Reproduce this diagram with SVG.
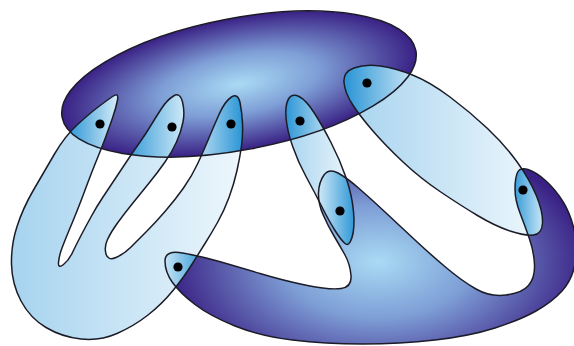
<svg xmlns="http://www.w3.org/2000/svg" width="574" height="346" viewBox="0 0 574 346">
<style>
.ol{fill:none;stroke:#1c1c28;stroke-width:1.5;stroke-linejoin:round}
.lt{fill:url(#gLight)}
.dot{fill:#000}
</style>
<defs>
<radialGradient id="gDarkE" cx="0.5" cy="0.5" r="0.5">
<stop offset="0" stop-color="#a9dbf4"/>
<stop offset="0.45" stop-color="#7e9ed6"/>
<stop offset="1" stop-color="#3a2185"/>
</radialGradient>
<radialGradient id="gDarkW" gradientUnits="userSpaceOnUse" cx="0" cy="0" r="1" gradientTransform="translate(378,262) scale(210,125)">
<stop offset="0" stop-color="#a9dbf4"/>
<stop offset="0.45" stop-color="#7e9ed6"/>
<stop offset="1" stop-color="#3a2185"/>
</radialGradient>
<linearGradient id="gLight" x1="0" y1="0" x2="1" y2="0">
<stop offset="0" stop-color="#a6d3ef"/>
<stop offset="1" stop-color="#eef7fc"/>
</linearGradient>
<linearGradient id="gBL" x1="0" y1="0" x2="1" y2="0">
<stop offset="0" stop-color="#1f8fd3"/>
<stop offset="1" stop-color="#d9eef9"/>
</linearGradient>
<linearGradient id="gBR" x1="0" y1="0" x2="1" y2="0">
<stop offset="0" stop-color="#d9eef9"/>
<stop offset="1" stop-color="#1f8fd3"/>
</linearGradient>
<ellipse id="pE" cx="0" cy="0" rx="180" ry="66" transform="translate(239,84) rotate(-10.7)"/>
<path id="pW" d="M165,261 Q165,250 182.5,253 Q200,256 217.5,261 Q235,266 260,273.5 Q285,281 307.5,285.5 Q330,290 341,288.5 Q352,287 351,275.5 Q350,264 345,255 Q340,246 334,236 Q328,226 323,214.5 Q318,203 318.5,192.5 Q319,182 324,175 Q329,168 338,173 Q347,178 358.5,188 Q370,198 385,212 Q400,226 415,240 Q430,254 446,267.5 Q462,281 476,289 Q490,297 506,295 Q522,293 528.5,285.5 Q535,278 534.5,265 Q534,252 529.5,239 Q525,226 520,213 Q515,200 515,189 Q515,178 517.5,172.5 Q520,167 528,169.5 Q536,172 546,181 Q556,190 563.5,202.5 Q571,215 574.5,231.5 Q578,248 575,264 Q572,280 562,291 Q552,302 536,311 Q520,320 495,328 Q470,336 435,340 Q400,344 362.5,344 Q325,344 292.5,340 Q260,336 235,326 Q210,316 195,304.5 Q180,293 172.5,282.5 Q165,272 165,261 Z"/>
<path id="pA" d="M112.5,96.5 Q119,92 117.5,100 Q116,108 112.5,118 Q109,128 105.5,137.5 Q102,147 98.5,155.5 Q95,164 91.5,173 Q88,182 84.5,191.5 Q81,201 77,211 Q73,221 69,230.5 Q65,240 62,248 Q59,256 58.5,262.5 Q58,269 63.5,264.5 Q69,260 72.5,252.5 Q76,245 81,235.5 Q86,226 91.5,216 Q97,206 103,197 Q109,188 115,179 Q121,170 127,161 Q133,152 139,143.5 Q145,135 150.5,126 Q156,117 161.5,108.5 Q167,100 173.5,96 Q180,92 182.5,102 Q185,112 183,122 Q181,132 176.5,142 Q172,152 165,162 Q158,172 149.5,182.5 Q141,193 132.5,203.5 Q124,214 117.5,223 Q111,232 107.5,239.5 Q104,247 106,254 Q108,261 116,257.5 Q124,254 130.5,247.5 Q137,241 146,232 Q155,223 165,211.5 Q175,200 183.5,188 Q192,176 198,163 Q204,150 208.5,139 Q213,128 219,114.5 Q225,101 231.5,97 Q238,93 240,102.5 Q242,112 242.5,123.5 Q243,135 241.5,146 Q240,157 237,170.5 Q234,184 229,197.5 Q224,211 217.5,222.5 Q211,234 205,243.5 Q199,253 191.5,265 Q184,277 173,290.5 Q162,304 148,315 Q134,326 117,333.5 Q100,341 81,339 Q62,337 46,327.5 Q30,318 21,301 Q12,284 11.5,264.5 Q11,245 17,226.5 Q23,208 33.5,190 Q44,172 54.5,154 Q65,136 77,125 Q89,114 97.5,107.5 Q106,101 112.5,96.5 Z"/>
<path id="pC" d="M299,96.5 Q306,100 314,112.5 Q322,125 331,142.5 Q340,160 346,177.5 Q352,195 353.5,211.5 Q355,228 352,237.5 Q349,247 345,243.5 Q341,240 335,230.5 Q329,221 322,207 Q315,193 306.5,177.5 Q298,162 292.5,146 Q287,130 286,117.5 Q285,105 288.5,99 Q292,93 299,96.5 Z"/>
<path id="pD" d="M354,68 Q365,64 380,66 Q395,68 412.5,75 Q430,82 450,97 Q470,112 487.5,128.5 Q505,145 517.5,162.5 Q530,180 536.5,196 Q543,212 542.5,223 Q542,234 533.5,235 Q525,236 510,231 Q495,226 477.5,215.5 Q460,205 440,191.5 Q420,178 402.5,161.5 Q385,145 372.5,130.5 Q360,116 352.5,104.5 Q345,93 344,82.5 Q343,72 354,68 Z"/>
<clipPath id="cE"><use href="#pE"/></clipPath>
<clipPath id="cW"><use href="#pW"/></clipPath>
<clipPath id="cA"><use href="#pA"/></clipPath>
<clipPath id="cC"><use href="#pC"/></clipPath>
<clipPath id="cD"><use href="#pD"/></clipPath>
</defs>
<g id="edge-top-fill"><use href="#pE" fill="url(#gDarkE)"/></g>
<g id="edge-bottom-fill"><use href="#pW" fill="url(#gDarkW)"/></g>
<g id="edge-left-fill"><use href="#pA" class="lt"/></g>
<g id="edge-middle-fill"><use href="#pC" class="lt"/></g>
<g id="edge-right-fill"><use href="#pD" class="lt"/></g>
<g id="overlaps">
<g clip-path="url(#cE)">
<rect x="64" y="90" width="55" height="64" fill="url(#gBL)" clip-path="url(#cA)"/>
<rect x="119" y="90" width="69" height="70" fill="url(#gBL)" clip-path="url(#cA)"/>
<rect x="188" y="90" width="58" height="72" fill="url(#gBR)" clip-path="url(#cA)"/>
<rect x="282" y="90" width="55" height="60" fill="url(#gBL)" clip-path="url(#cC)"/>
<rect x="340" y="60" width="80" height="75" fill="url(#gBL)" clip-path="url(#cD)"/>
</g>
<g clip-path="url(#cW)">
<rect x="160" y="245" width="48" height="52" fill="url(#gBR)" clip-path="url(#cA)"/>
<rect x="316" y="165" width="42" height="85" fill="url(#gBR)" clip-path="url(#cC)"/>
<rect x="510" y="163" width="36" height="78" fill="url(#gBL)" clip-path="url(#cD)"/>
</g>
</g>
<g id="outlines">
<use href="#pE" class="ol"/>
<use href="#pW" class="ol"/>
<use href="#pA" class="ol"/>
<use href="#pC" class="ol"/>
<use href="#pD" class="ol"/>
</g>
<g id="v1"><circle class="dot" cx="100" cy="124" r="4.6"/></g>
<g id="v2"><circle class="dot" cx="172" cy="127" r="4.6"/></g>
<g id="v3"><circle class="dot" cx="231" cy="124" r="4.6"/></g>
<g id="v4"><circle class="dot" cx="300" cy="121" r="4.6"/></g>
<g id="v5"><circle class="dot" cx="367" cy="83" r="4.6"/></g>
<g id="v6"><circle class="dot" cx="340" cy="211" r="4.6"/></g>
<g id="v7"><circle class="dot" cx="523" cy="190" r="4.6"/></g>
<g id="v8"><circle class="dot" cx="178" cy="267" r="4.6"/></g>
</svg>
